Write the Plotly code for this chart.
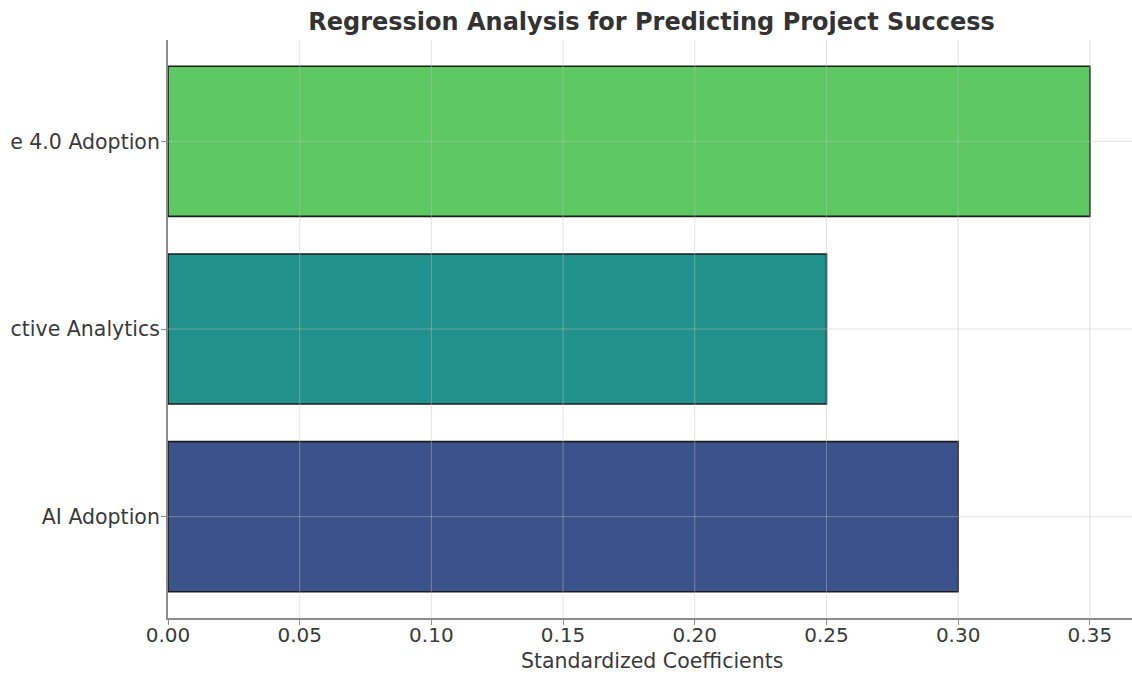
import plotly.graph_objects as go

# Regression coefficients for project success predictors
categories = ["AI Adoption", "Predictive Analytics", "Industrie 4.0 Adoption"]
coefficients = [0.30, 0.25, 0.35]
bar_colors = ["#3b528b", "#21918c", "#5ec962"]
x_ticks = [0.00, 0.05, 0.10, 0.15, 0.20, 0.25, 0.30, 0.35]
x_tick_labels = ["0.00", "0.05", "0.10", "0.15", "0.20", "0.25", "0.30", "0.35"]

W, H = 1132, 675
PLOT_LEFT, PLOT_TOP, PLOT_BOTTOM = 168, 40, 618
CLIP_X = 11  # left strip of the canvas that stays blank
text_color = "#3a3a3a"
spine_color = "#8c8c8c"
font_family = "DejaVu Sans"

fig = go.Figure(
    go.Bar(
        x=coefficients,
        y=categories,
        orientation="h",
        width=0.8,
        marker=dict(color=bar_colors, line=dict(color="#1c1c1c", width=1.6)),
        hoverinfo="x+y",
    )
)

# Grid lines drawn on top of the bars
shapes = []
for t in x_ticks[1:]:
    shapes.append(dict(
        type="line", xref="x", yref="y domain", x0=t, x1=t, y0=0, y1=1,
        line=dict(color="rgba(190,190,190,0.45)", width=1), layer="above",
    ))
for c in categories:
    shapes.append(dict(
        type="line", xref="x domain", yref="y", x0=0, x1=1, y0=c, y1=c,
        line=dict(color="rgba(190,190,190,0.45)", width=1), layer="above",
    ))

plot_w = W - PLOT_LEFT
plot_h = PLOT_BOTTOM - PLOT_TOP

# Blank strip along the left edge of the canvas
shapes.append(dict(
    type="rect", xref="paper", yref="paper",
    x0=-PLOT_LEFT / plot_w - 0.01, x1=(CLIP_X - PLOT_LEFT) / plot_w,
    y0=-0.2, y1=1.2,
    fillcolor="white", line=dict(width=0), layer="above",
))

fig.update_layout(
    width=W,
    height=H,
    margin=dict(l=PLOT_LEFT, r=0, t=PLOT_TOP, b=H - PLOT_BOTTOM, autoexpand=False),
    paper_bgcolor="white",
    plot_bgcolor="white",
    font=dict(family=font_family, color=text_color, size=20),
    showlegend=False,
    bargap=0.2,
    shapes=shapes,
    title=dict(
        text="<b>Regression Analysis for Predicting Project Success</b>",
        font=dict(family=font_family, size=24, color="#333333"),
        xref="container", yref="container",
        x=651.5 / W, y=1 - 22 / H,
        xanchor="center", yanchor="middle",
    ),
    xaxis=dict(
        range=[0, 0.366],
        tickvals=x_ticks,
        ticktext=x_tick_labels,
        showgrid=False,
        zeroline=False,
        showline=True,
        linecolor=spine_color,
        linewidth=2,
        ticks="outside",
        ticklen=5,
        tickwidth=1.2,
        tickcolor=spine_color,
        tickfont=dict(size=20, color=text_color),
        ticklabelstandoff=-7,
        automargin=False,
    ),
    yaxis=dict(
        range=[-0.54, 2.54],
        categoryorder="array",
        categoryarray=categories,
        showgrid=False,
        zeroline=False,
        showline=True,
        linecolor=spine_color,
        linewidth=2,
        ticks="outside",
        ticklen=5,
        tickwidth=1.2,
        tickcolor=spine_color,
        tickfont=dict(size=20.5, color=text_color),
        ticklabelstandoff=-3,
        automargin=False,
    ),
    annotations=[dict(
        text="Standardized Coefficients",
        xref="paper", yref="paper",
        x=0.5 * (1136 - PLOT_LEFT) / plot_w,
        y=(PLOT_BOTTOM - 661) / plot_h,
        xanchor="center", yanchor="middle",
        showarrow=False,
        font=dict(size=20.5, color=text_color),
    )],
)

fig.write_html("out.html")
